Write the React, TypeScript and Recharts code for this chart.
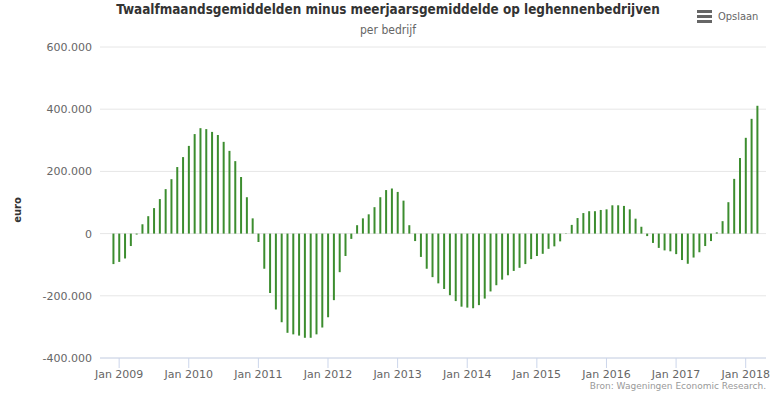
import React from 'react';
import { BarChart, Bar, XAxis, YAxis, CartesianGrid } from 'recharts';

// twaalfmaandsgemiddelde minus meerjaarsgemiddelde, euro per bedrijf (dec 2008 - mrt 2018)
const y2008 = [-98000];
const y2009 = [-91000, -80000, -40000, -3000, 30000, 56000, 82000, 111000, 143000, 175000, 214000, 246000];
const y2010 = [282000, 320000, 339000, 336000, 327000, 317000, 295000, 266000, 233000, 182000, 117000, 49000];
const y2011 = [-27000, -113000, -191000, -244000, -285000, -319000, -324000, -328000, -335000, -335000, -324000, -302000];
const y2012 = [-269000, -214000, -124000, -72000, -17000, 27000, 49000, 62000, 85000, 117000, 140000, 145000];
const y2013 = [134000, 106000, 27000, -24000, -75000, -113000, -140000, -160000, -178000, -198000, -217000, -235000];
const y2014 = [-238000, -240000, -230000, -209000, -186000, -166000, -148000, -134000, -120000, -110000, -98000, -82000];
const y2015 = [-72000, -65000, -49000, -41000, -25000, -1000, 28000, 50000, 66000, 72000, 72000, 76000];
const y2016 = [78000, 91000, 91000, 89000, 78000, 48000, 22000, -8000, -30000, -46000, -54000, -57000];
const y2017 = [-66000, -85000, -97000, -77000, -60000, -40000, -24000, 4000, 40000, 101000, 176000, 243000];
const y2018 = [308000, 369000, 411000];

const tickLabels = ['Jan 2009', 'Jan 2010', 'Jan 2011', 'Jan 2012', 'Jan 2013', 'Jan 2014', 'Jan 2015', 'Jan 2016', 'Jan 2017', 'Jan 2018'];
const yTicks = [-400000, -200000, 0, 200000, 400000, 600000];

const values = [...y2008, ...y2009, ...y2010, ...y2011, ...y2012, ...y2013, ...y2014, ...y2015, ...y2016, ...y2017, ...y2018];
// x = month index, 0 = dec 2008
const data = values.map((v, i) => ({ x: i, value: v }));
const xTicks = tickLabels.map((_, i) => 1 + i * 12);

const fmt = (n: number) => {
  const s = Math.abs(n).toString().replace(/\B(?=(\d{3})+(?!\d))/g, '.');
  return (n < 0 ? '-' : '') + s;
};

const tickStyle = { fontSize: 11, fill: '#666666', fontFamily: '"DejaVu Sans", sans-serif' };

export default function App() {
  return (
    <div style={{ position: 'absolute', left: 0, top: 0, width: 776, height: 394, background: '#fff', fontFamily: '"DejaVu Sans", sans-serif' }}>
      <div style={{ position: 'absolute', top: 2, left: 0, width: 776, textAlign: 'center', fontFamily: '"DejaVu Sans Condensed", sans-serif', fontWeight: 'bold', fontSize: 13.4, color: '#333' }}>
        Twaalfmaandsgemiddelden minus meerjaarsgemiddelde op leghennenbedrijven
      </div>
      <div style={{ position: 'absolute', top: 23, left: 0, width: 776, textAlign: 'center', fontFamily: '"DejaVu Sans Condensed", sans-serif', fontSize: 12, color: '#666' }}>
        per bedrijf
      </div>
      <div style={{ position: 'absolute', top: 10, left: 697 }}>
        {[0, 5, 10].map((t) => (
          <div key={t} style={{ position: 'absolute', top: t, left: 0, width: 15, height: 3, background: '#666' }} />
        ))}
      </div>
      <div style={{ position: 'absolute', top: 10, left: 718, fontFamily: '"DejaVu Sans Condensed", sans-serif', fontSize: 11, color: '#666' }}>
        Opslaan
      </div>
      <div style={{ position: 'absolute', left: 17, top: 210, transform: 'translate(-50%, -50%) rotate(-90deg)', fontSize: 10, fontWeight: 'bold', color: '#333' }}>
        euro
      </div>
      <div style={{ position: 'absolute', right: 10, top: 381, fontSize: 9, color: '#999' }}>
        Bron: Wageningen Economic Research.
      </div>
      <BarChart width={776} height={394} data={data} margin={{ top: 47, right: 10, bottom: 6, left: 40 }}>
        <CartesianGrid vertical={false} stroke="#e6e6e6" />
        <XAxis
          dataKey="x"
          type="number"
          domain={[-2.3, 112.5]}
          allowDataOverflow
          ticks={xTicks}
          tickFormatter={(v: number) => tickLabels[(v - 1) / 12]}
          tick={tickStyle}
          tickSize={10}
          stroke="#ccd6eb"
          height={30}
        />
        <YAxis
          domain={[-400000, 600000]}
          ticks={yTicks}
          tickFormatter={fmt}
          tick={tickStyle}
          axisLine={false}
          tickLine={false}
          width={60}
        />
        <Bar dataKey="value" fill="#3c8d2f" barSize={2} isAnimationActive={false} />
      </BarChart>
    </div>
  );
}
